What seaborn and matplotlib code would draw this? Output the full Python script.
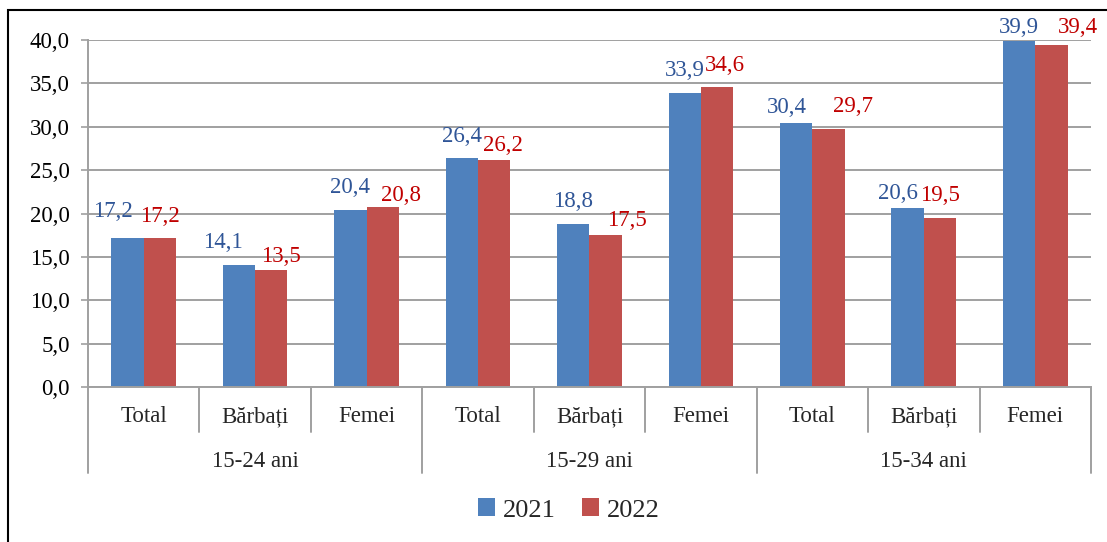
import matplotlib
matplotlib.use("Agg")
import matplotlib.pyplot as plt
import seaborn as sns
import pandas as pd
from matplotlib.patches import Patch, Rectangle
from matplotlib.ticker import FuncFormatter, MultipleLocator
import matplotlib.transforms as mtransforms

# data
groups = ["15-24 ani", "15-29 ani", "15-34 ani"]
subcats = ["Total", "Bărbați", "Femei"]
years = ["2021", "2022"]
vals_2021 = [17.2, 14.1, 20.4, 26.4, 18.8, 33.9, 30.4, 20.6, 39.9]
vals_2022 = [17.2, 13.5, 20.8, 26.2, 17.5, 34.6, 29.7, 19.5, 39.4]

# label nudges in pixels (dx, dy above bar top), as placed in the original
nudge_2021 = [(-15, 21), (-16, 17), (0, 17), (0, 16), (0, 17), (0, 17), (-9, 10), (-10, 9), (0, 8)]
nudge_2022 = [(0, 16), (10, 8), (18, 6), (9, 9), (21, 9), (8, 16), (24, 17), (0, 17), (27, 12)]

bar_colors = ["#4F81BD", "#C0504D"]
label_colors = ["#2F5597", "#C00000"]
grid_col = "#A0A0A0"
FS = 16.5

def fmt(v):
    return f"{v:.1f}".replace(".", ",")

def main():
    keys = [f"{g}|{s}" for g in groups for s in subcats]
    df = pd.DataFrame({
        "cat": keys * 2,
        "year": ["2021"] * 9 + ["2022"] * 9,
        "value": vals_2021 + vals_2022,
    })

    sns.set_style("white")
    plt.rcParams["font.family"] = ["Liberation Serif", "DejaVu Serif"]

    dpi = 100
    fig = plt.figure(figsize=(11.07, 5.42), dpi=dpi)
    ax = fig.add_axes([0.0795, 0.286, 0.906, 0.640])

    sns.barplot(data=df, x="cat", y="value", hue="year", order=keys,
                hue_order=years, palette=bar_colors, width=0.58, gap=0,
                saturation=1, linewidth=0, ax=ax, legend=False)

    ax.set_xlim(-0.5, 8.5)
    ax.set_ylim(0, 40)
    ax.yaxis.set_major_locator(MultipleLocator(5))
    ax.yaxis.set_major_formatter(FuncFormatter(lambda v, _: fmt(v)))
    ax.grid(axis="y", color=grid_col, lw=1.4)
    ax.set_axisbelow(True)
    ax.set_xlabel("")
    ax.set_ylabel("")

    for s in ["top", "right"]:
        ax.spines[s].set_visible(False)
    for s in ["left", "bottom"]:
        ax.spines[s].set_color(grid_col)
        ax.spines[s].set_linewidth(1.4)

    ax.tick_params(axis="y", length=5, width=1.2, color=grid_col, pad=8,
                   labelsize=FS, labelcolor="black", left=True)
    ax.set_xticks(range(9))
    ax.set_xticklabels(subcats * 3, fontsize=FS)
    ax.tick_params(axis="x", length=0, pad=14)

    # data labels
    px = 72 / dpi
    for cont, vals, nud, col in zip(ax.containers, [vals_2021, vals_2022],
                                    [nudge_2021, nudge_2022], label_colors):
        for bar, v, (dx, dy) in zip(cont, vals, nud):
            xc = bar.get_x() + bar.get_width() / 2
            ax.annotate(fmt(v), (xc, v), xytext=(dx * px, dy * px),
                        textcoords="offset points", ha="center", va="baseline",
                        color=col, fontsize=FS, annotation_clip=False)

    # multi-level axis separators
    trans = mtransforms.blended_transform_factory(ax.transData, ax.transAxes)
    ax_h = 347
    for b in [x - 0.5 for x in range(10)]:
        bottom = -86 / ax_h if b in (-0.5, 2.5, 5.5, 8.5) else -45 / ax_h
        ax.plot([b, b], [0, bottom], color=grid_col, lw=1.4,
                transform=trans, clip_on=False)
    for i, g in enumerate(groups):
        ax.text(3 * i + 1, -75 / ax_h, g, transform=trans, ha="center",
                va="center", fontsize=FS)

    handles = [Patch(facecolor=c, edgecolor="none") for c in bar_colors]
    fig.legend(handles, years, loc="center", bbox_to_anchor=(569 / 1107, 1 - 510 / 542),
               ncol=2, frameon=False, fontsize=19, handlelength=0.65,
               handleheight=0.65, handletextpad=0.3, columnspacing=1.0)

    # outer border (right/bottom edges fall outside the image)
    fig.patches.append(Rectangle((8 / 1107, -0.05), 1.2, 1.05 - 10 / 542,
                                 transform=fig.transFigure, fill=False,
                                 edgecolor="black", lw=1.5, figure=fig))

    fig.savefig("out.png", dpi=dpi)

if __name__ == "__main__":
    main()
